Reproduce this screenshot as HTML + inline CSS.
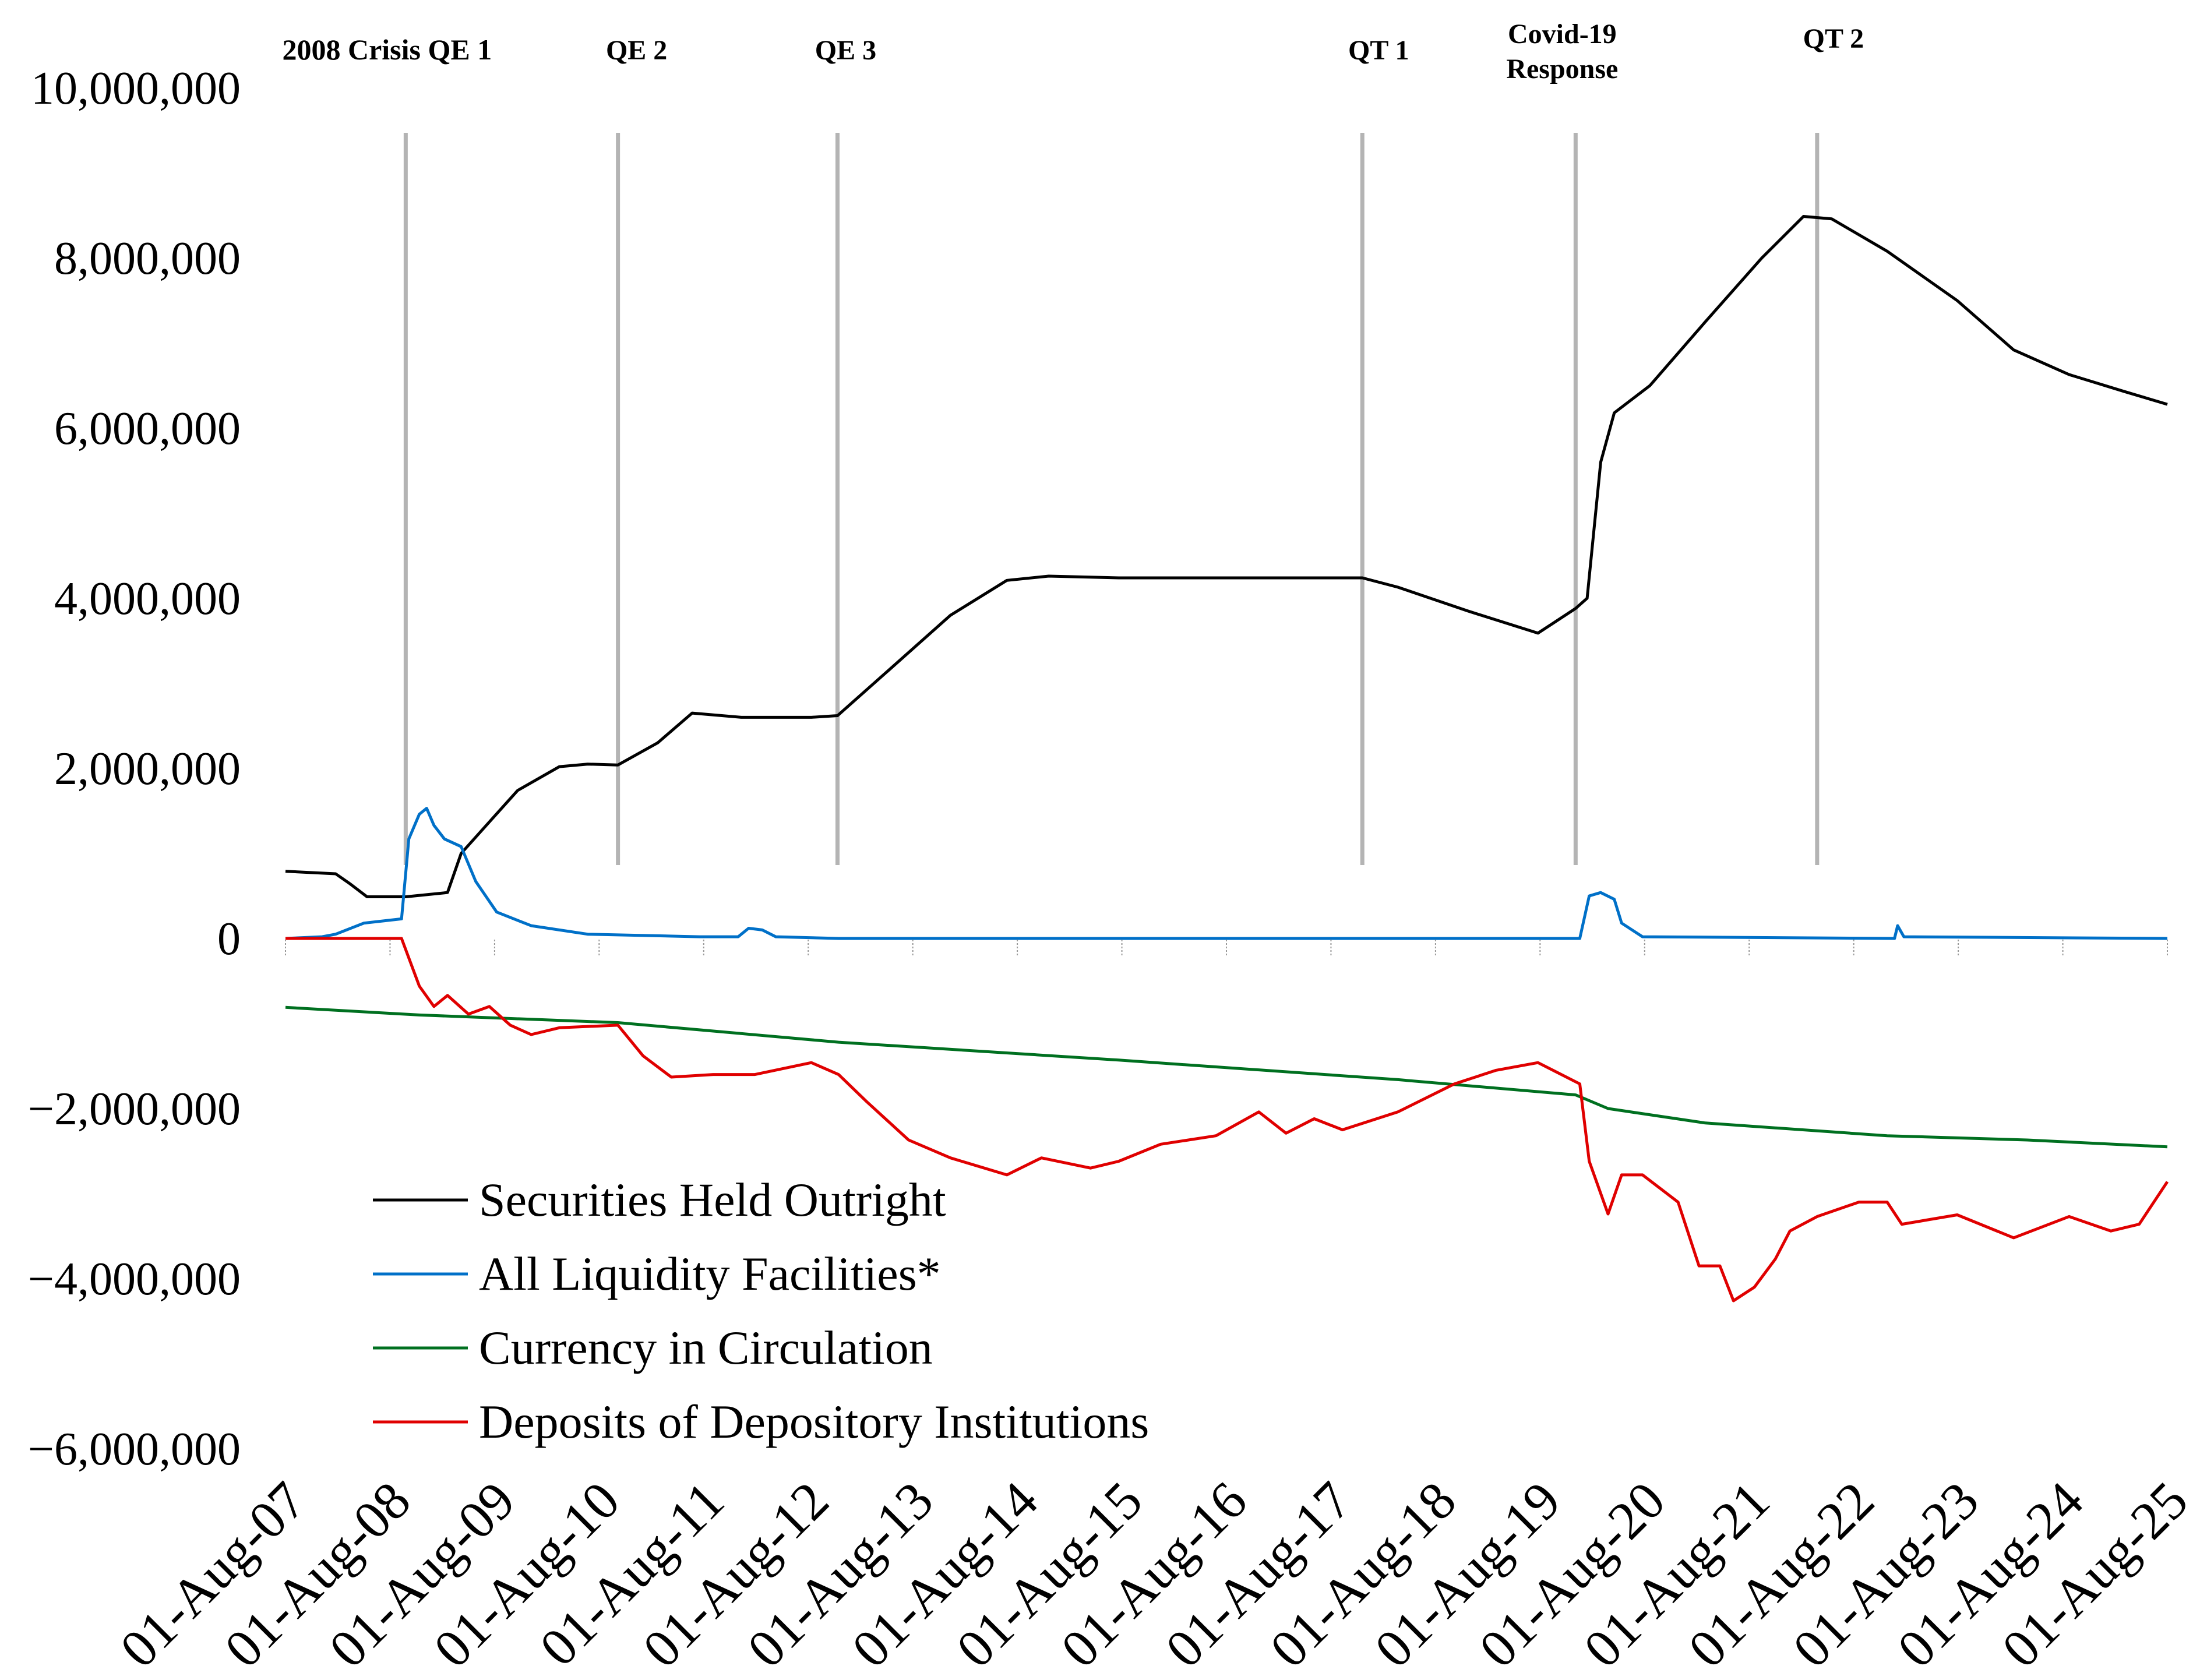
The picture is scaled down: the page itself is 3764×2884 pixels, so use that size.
<!DOCTYPE html>
<html><head><meta charset="utf-8"><style>
html,body{margin:0;padding:0;background:#fff;}
svg{display:block;}
text{font-family:"Liberation Serif",serif;fill:#000;}
</style></head><body>
<svg id="chart" width="3764" height="2884" viewBox="0 0 3764 2884" xmlns="http://www.w3.org/2000/svg">
<g id="grid"></g><g id="series"></g><g id="axes"></g><g id="legend"></g>
</svg>
<script>
// ---- data (values in millions of USD, dates in decimal years) ----
const yTicks=[10,8,6,4,2,0,-2,-4,-6];
const yTickLabels=["10,000,000","8,000,000","6,000,000","4,000,000","2,000,000","0","\u22122,000,000","\u22124,000,000","\u22126,000,000"];
const xTickYears=[2007,2008,2009,2010,2011,2012,2013,2014,2015,2016,2017,2018,2019,2020,2021,2022,2023,2024,2025];
const xTickLabels=xTickYears.map(y=>"01-Aug-"+String(y).slice(2));
const eventDates=[2008.73,2010.76,2012.86,2017.88,2019.92,2022.23];
const eventLabels=[["2008 Crisis QE 1"],["QE 2"],["QE 3"],["QT 1"],["Covid-19","Response"],["QT 2"]];

const secDates=[2007.58,2008.06,2008.20,2008.36,2008.73,2009.13,2009.26,2009.53,2009.80,2010.20,2010.47,2010.76,2011.14,2011.47,2011.94,2012.61,2012.86,2013.41,2013.94,2014.48,2014.88,2015.55,2016.89,2017.88,2018.22,2018.89,2019.56,2019.92,2020.03,2020.16,2020.29,2020.63,2021.16,2021.70,2022.10,2022.37,2022.90,2023.57,2024.11,2024.64,2025.17,2025.58];
const secValues=[0.79,0.76,0.64,0.49,0.49,0.54,1.0,1.37,1.74,2.02,2.05,2.04,2.3,2.65,2.6,2.6,2.62,3.22,3.8,4.21,4.26,4.24,4.24,4.24,4.13,3.85,3.59,3.88,4.0,5.6,6.18,6.5,7.25,8.0,8.49,8.46,8.08,7.5,6.92,6.63,6.43,6.28];

const liqDates=[2007.58,2007.93,2008.06,2008.33,2008.69,2008.76,2008.86,2008.93,2009.00,2009.10,2009.26,2009.40,2009.60,2009.93,2010.47,2011.54,2011.91,2012.01,2012.14,2012.27,2012.87,2019.96,2020.05,2020.16,2020.29,2020.36,2020.56,2022.97,2023.00,2023.06,2025.58];
const liqValues=[0,0.02,0.05,0.18,0.23,1.17,1.46,1.53,1.33,1.17,1.08,0.67,0.31,0.15,0.05,0.02,0.02,0.12,0.1,0.02,0.0,0.0,0.5,0.54,0.46,0.18,0.02,0.0,0.15,0.02,0.0];

const curDates=[2007.58,2008.86,2010.76,2012.87,2015.55,2018.22,2019.92,2020.23,2021.16,2022.90,2024.24,2025.58];
const curValues=[-0.81,-0.9,-0.99,-1.22,-1.43,-1.66,-1.84,-2.0,-2.17,-2.32,-2.37,-2.45];

const depDates=[2007.58,2008.69,2008.86,2009.00,2009.13,2009.33,2009.53,2009.73,2009.93,2010.20,2010.76,2011.00,2011.27,2011.67,2012.07,2012.61,2012.87,2013.14,2013.54,2013.94,2014.48,2014.81,2015.28,2015.55,2015.95,2016.48,2016.89,2017.15,2017.42,2017.69,2018.22,2018.76,2019.16,2019.56,2019.96,2020.05,2020.23,2020.36,2020.56,2020.90,2021.10,2021.30,2021.43,2021.63,2021.83,2021.97,2022.23,2022.63,2022.90,2023.04,2023.57,2024.11,2024.64,2025.04,2025.31,2025.58];
const depValues=[0,0,-0.56,-0.8,-0.67,-0.89,-0.8,-1.02,-1.13,-1.05,-1.02,-1.38,-1.63,-1.6,-1.6,-1.46,-1.6,-1.92,-2.37,-2.58,-2.78,-2.58,-2.7,-2.62,-2.42,-2.32,-2.04,-2.29,-2.12,-2.25,-2.04,-1.71,-1.55,-1.46,-1.71,-2.62,-3.24,-2.78,-2.78,-3.1,-3.85,-3.85,-4.26,-4.1,-3.77,-3.44,-3.27,-3.1,-3.1,-3.36,-3.25,-3.52,-3.27,-3.44,-3.36,-2.86];

const seriesNames=["Securities Held Outright","All Liquidity Facilities*","Currency in Circulation","Deposits of Depository Institutions"];
const seriesColors=["#000000","#0070c8","#007020","#e00000"];

// ---- scales ----
const X0=490,X1=3720,D0=2007.58,D1=2025.58;
function xs(d){return X0+(d-D0)*(X1-X0)/(D1-D0);}
function ys(v){return 1611-v*146;}
const NS="http://www.w3.org/2000/svg";
function mk(tag,attrs,parent){const e=document.createElementNS(NS,tag);for(const k in attrs)e.setAttribute(k,attrs[k]);parent.appendChild(e);return e;}
const grid=document.getElementById('grid'),ser=document.getElementById('series'),axes=document.getElementById('axes'),leg=document.getElementById('legend');

yTicks.forEach((v,i)=>{
  const t=mk('text',{x:413,y:ys(v)+27,'text-anchor':'end','font-size':80},axes);
  t.textContent=yTickLabels[i];
  
  
});
xTickYears.forEach((yr,i)=>{
  const x=xs(yr+0.58);
  const tk=mk('line',{x1:x,x2:x,y1:1613,y2:1640,stroke:'#999','stroke-width':2,'stroke-dasharray':'3,3'},axes);
  
  
  const t=mk('text',{x:0,y:0,'text-anchor':'end','font-size':92,transform:`translate(${x+40},2582) rotate(-45)`},axes);
  t.textContent=xTickLabels[i];
  
  
});
eventDates.forEach((d,i)=>{
  const x=xs(d);
  const l=mk('line',{x1:x,x2:x,y1:228,y2:1485,stroke:'#b4b4b4','stroke-width':7},grid);
  
  
  const lines=eventLabels[i];
  const lx=[x-32,x+32,x+14,x+28,x-23,x+28][i];
  lines.forEach((s,j)=>{
    const yy=lines.length>1? 74+j*60 : (i===5?82:102);
    const t=mk('text',{x:lx,y:yy,'text-anchor':'middle','font-size':i===0?50:48,'font-weight':'bold'},grid);
    t.textContent=s;
    
    
  });
});
[[secDates,secValues],[liqDates,liqValues],[curDates,curValues],[depDates,depValues]].forEach((s,i)=>{
  const pts=s[0].map((d,j)=>xs(d).toFixed(1)+','+ys(s[1][j]).toFixed(1)).join(' ');
  const p=mk('polyline',{points:pts,fill:'none',stroke:seriesColors[i],'stroke-width':5,'stroke-linejoin':'round'},ser);
  
  
});
seriesNames.forEach((n,i)=>{
  const y=2060+i*127;
  const l=mk('line',{x1:640,x2:803,y1:y,y2:y,stroke:seriesColors[i],'stroke-width':5},leg);
  
  
  const t=mk('text',{x:822,y:y+27,'font-size':82},leg);
  t.textContent=n;
  
  
});
</script>
</body></html>
